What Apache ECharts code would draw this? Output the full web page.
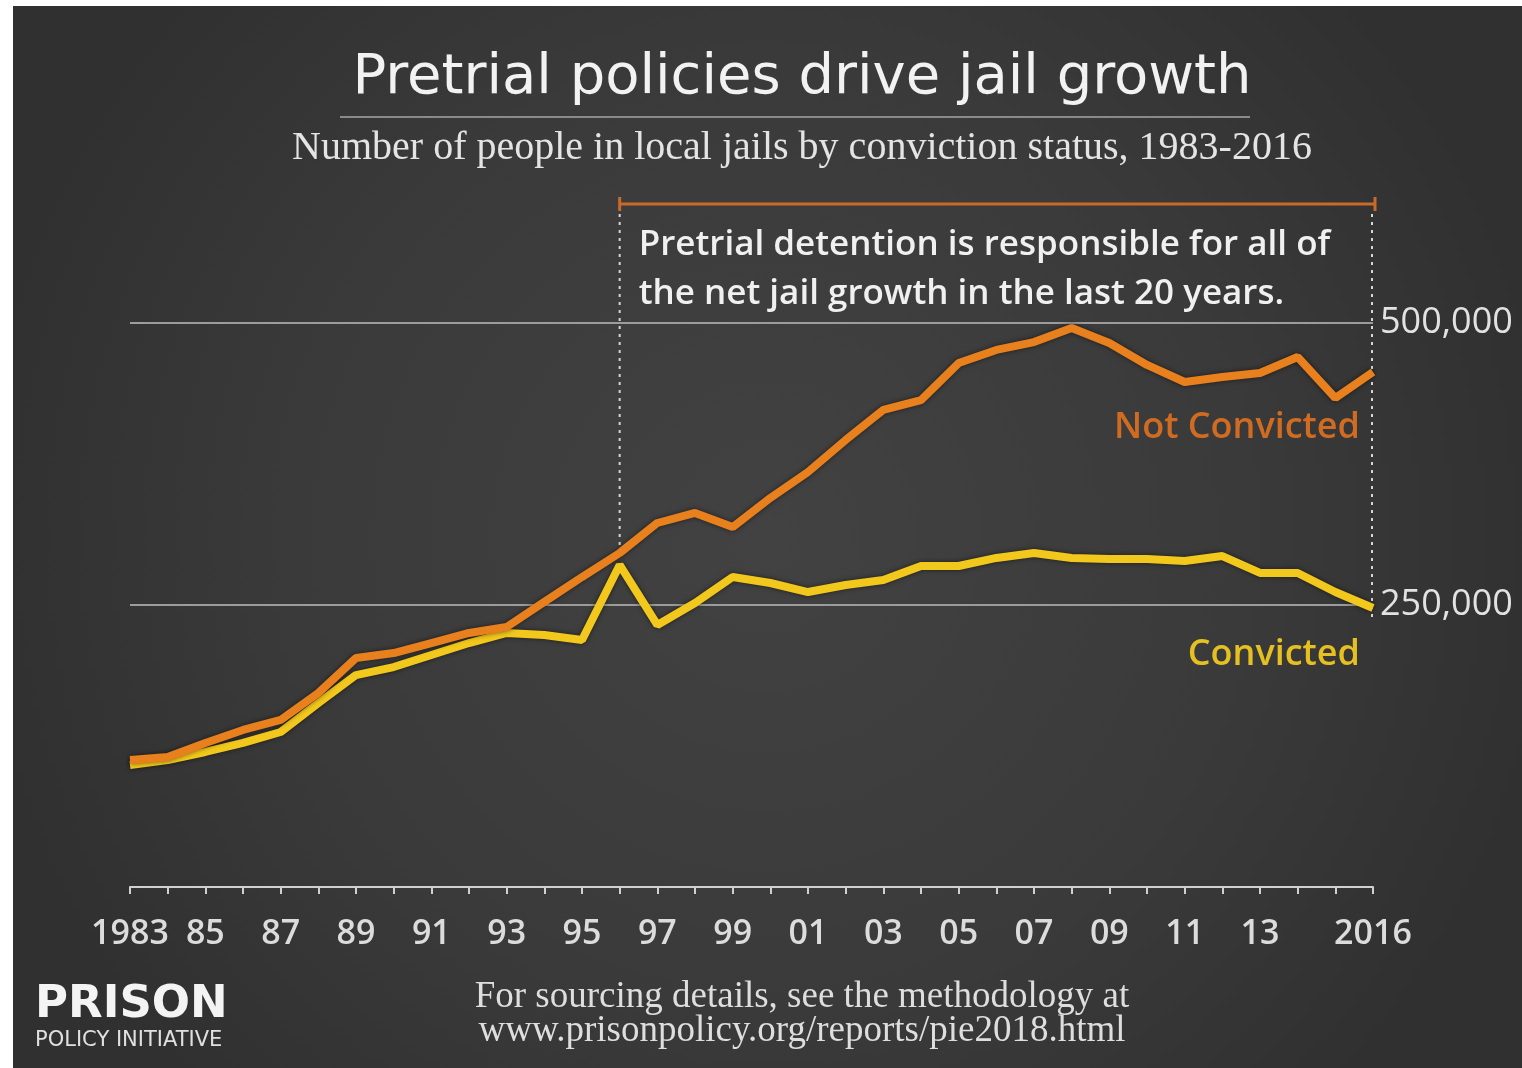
<!DOCTYPE html>
<html>
<head>
<meta charset="utf-8">
<title>Pretrial policies drive jail growth</title>
<script src="https://cdn.jsdelivr.net/npm/echarts@6/dist/echarts.min.js"></script>
<style>
  html, body { margin: 0; padding: 0; background: #ffffff; width: 1522px; height: 1068px; overflow: hidden; }
  #chart { position: absolute; left: 13px; top: 6px; width: 1509px; height: 1062px; }
</style>
</head>
<body>
<div id="chart"></div>
<script>
// Jail population by conviction status, 1983-2016
const years = ['1983','1984','1985','1986','1987','1988','1989','1990','1991','1992','1993','1994',
  '1995','1996','1997','1998','1999','2000','2001','2002','2003','2004','2005','2006','2007','2008',
  '2009','2010','2011','2012','2013','2014','2015','2016'];

const xLabelText = ['1983','','85','','87','','89','','91','','93','','95','','97','','99','','01','',
  '03','','05','','07','','09','','11','','13','','','2016'];

const notConvicted = [112600,115300,127700,139200,148100,172000,203000,207400,216300,225200,230500,
  252700,274800,296100,322700,331600,319100,344900,367900,396300,422900,431700,464500,476100,483100,
  495600,482300,462800,447700,452100,455700,469900,433500,456600];

const convicted = [108200,112600,119700,127700,137400,163100,187900,195000,205700,216300,225200,
  223400,219000,285500,232300,251800,274800,269500,261500,267700,272200,284600,284600,291700,296100,
  291700,290800,290800,289000,293400,278400,278400,261500,247300];

const yTicks = [0, 250000, 500000];

// Bracketed period for the annotation
const bracketStart = '1996';
const bracketEnd = '2016';

const ORANGE = '#e8801d';
const YELLOW = '#f3c81c';
const SANS = '"Open Sans", sans-serif';
const SERIF = '"Liberation Serif", serif';

const chart = echarts.init(document.getElementById('chart'));

const option = {
  backgroundColor: {
    type: 'radial', x: 0.5, y: 0.5, r: 0.75,
    colorStops: [
      { offset: 0, color: '#424242' },
      { offset: 0.6, color: '#3a3a3a' },
      { offset: 1, color: '#303030' }
    ]
  },
  animation: false,
  grid: { left: 117, right: 149, top: 317, bottom: 181 },
  xAxis: {
    type: 'category',
    data: years,
    boundaryGap: false,
    axisLine: { show: true, lineStyle: { color: '#d0d0d0', width: 2 } },
    axisTick: { show: true, interval: 0, length: 7, lineStyle: { color: '#d0d0d0', width: 2 } },
    axisLabel: {
      interval: 0,
      margin: 30,
      color: '#dcdcdc',
      fontFamily: SANS,
      fontWeight: 600,
      fontSize: 34,
      formatter: (v, i) => xLabelText[i]
    },
    splitLine: { show: false }
  },
  yAxis: {
    type: 'value',
    position: 'right',
    min: yTicks[0],
    max: yTicks[yTicks.length - 1],
    interval: yTicks[1] - yTicks[0],
    axisLine: { show: false },
    axisTick: { show: false },
    axisLabel: {
      margin: 7,
      color: '#e2e2e2',
      fontFamily: SANS,
      fontSize: 36,
      formatter: v => (v === 0 ? '' : v.toLocaleString('en-US'))
    },
    splitLine: { show: true, lineStyle: { color: '#9c9c9c', width: 2 } }
  },
  series: [
    {
      name: 'Convicted',
      type: 'line',
      data: convicted,
      symbol: 'none',
      lineStyle: { color: YELLOW, width: 8, shadowColor: 'rgba(0,0,0,0.55)', shadowBlur: 5 },
      z: 3
    },
    {
      name: 'Not Convicted',
      type: 'line',
      data: notConvicted,
      symbol: 'none',
      lineStyle: { color: ORANGE, width: 8, shadowColor: 'rgba(0,0,0,0.55)', shadowBlur: 5 },
      z: 4
    }
  ]
};

chart.setOption(option);

// Annotations placed from the data coordinates
const px = (series, idx, val) => chart.convertToPixel({ seriesIndex: series }, [idx, val]);
const iStart = years.indexOf(bracketStart);
const iEnd = years.indexOf(bracketEnd);
const startPt = px(1, iStart, notConvicted[iStart]);
const endNC = px(1, iEnd, notConvicted[iEnd]);
const endC = px(0, iEnd, convicted[iEnd]);

const bracketY = 198;
const dotted = { stroke: '#d6d6d6', lineWidth: 2, lineDash: [3, 5] };
const centerX = 789;

chart.setOption({
  graphic: [
    // Title and rule
    { type: 'text', x: centerX, y: 72,
      style: { text: 'Pretrial policies drive jail growth', fill: '#f2f2f2',
        font: '56px "DejaVu Sans", sans-serif', align: 'center', verticalAlign: 'middle' } },
    { type: 'line', shape: { x1: 327, y1: 111, x2: 1237, y2: 111 },
      style: { stroke: '#8a8a8a', lineWidth: 2 } },
    { type: 'text', x: centerX, y: 142,
      style: { text: 'Number of people in local jails by conviction status, 1983-2016', fill: '#e4e4e4',
        font: '40px ' + SERIF, align: 'center', verticalAlign: 'middle' } },

    // Bracket over the pretrial growth period
    { type: 'line', shape: { x1: startPt[0], y1: bracketY, x2: endNC[0] + 2, y2: bracketY },
      style: { stroke: '#c9692a', lineWidth: 3 } },
    { type: 'line', shape: { x1: startPt[0], y1: bracketY - 7, x2: startPt[0], y2: bracketY + 7 },
      style: { stroke: '#c9692a', lineWidth: 3 } },
    { type: 'line', shape: { x1: endNC[0] + 2, y1: bracketY - 7, x2: endNC[0] + 2, y2: bracketY + 7 },
      style: { stroke: '#c9692a', lineWidth: 3 } },
    { type: 'line', shape: { x1: startPt[0], y1: bracketY + 10, x2: startPt[0], y2: startPt[1] - 8 },
      style: dotted },
    { type: 'line', shape: { x1: endNC[0] - 1, y1: bracketY + 10, x2: endNC[0] - 1, y2: endC[1] + 14 },
      style: dotted, z: 1 },
    { type: 'text', x: startPt[0] + 19, y: 264,
      style: { text: 'Pretrial detention is responsible for all of\nthe net jail growth in the last 20 years.',
        fill: '#f0f0f0', font: '600 35px ' + SANS, lineHeight: 49, verticalAlign: 'middle' } },

    // Series labels
    { type: 'text', x: endNC[0] - 13, y: endNC[1] + 56,
      style: { text: 'Not Convicted', fill: '#d06c22', font: '600 36px ' + SANS,
        align: 'right', verticalAlign: 'middle' } },
    { type: 'text', x: endC[0] - 13, y: endC[1] + 47,
      style: { text: 'Convicted', fill: '#e5c020', font: '600 36px ' + SANS,
        align: 'right', verticalAlign: 'middle' } },

    // Footer
    { type: 'text', x: centerX, y: 1008,
      style: { text: 'For sourcing details, see the methodology at\nwww.prisonpolicy.org/reports/pie2018.html',
        fill: '#dedede', font: '37px ' + SERIF, lineHeight: 34, align: 'center', verticalAlign: 'middle' } },

    // Logo
    { type: 'text', x: 22, y: 999,
      style: { text: 'PRISON', fill: '#f4f4f4', font: 'bold 45px "DejaVu Sans", sans-serif',
        verticalAlign: 'middle' } },
    { type: 'text', x: 22, y: 1035,
      style: { text: 'POLICY INITIATIVE', fill: '#e0e0e0', font: '21px "DejaVu Sans", sans-serif',
        verticalAlign: 'middle' } }
  ]
});
</script>
</body>
</html>
